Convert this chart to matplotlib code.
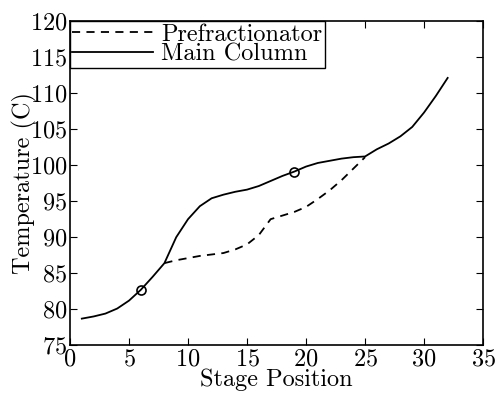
import matplotlib
matplotlib.use("Agg")
import matplotlib.pyplot as plt
import numpy as np

# temperature profiles
main_stage = list(range(1, 33))
main_temp = [78.7, 79.0, 79.4, 80.1, 81.2, 82.7, 84.5, 86.4, 90.0, 92.5,
             94.3, 95.4, 95.9, 96.3, 96.6, 97.1, 97.8, 98.5, 99.1, 99.8,
             100.3, 100.6, 100.9, 101.1, 101.2, 102.2, 103.0, 104.0, 105.3,
             107.3, 109.6, 112.1]
pre_stage = list(range(8, 26))
pre_temp = [86.4, 86.8, 87.1, 87.4, 87.6, 87.8, 88.3, 89.0, 90.3, 92.5,
            93.0, 93.5, 94.2, 95.3, 96.5, 97.9, 99.5, 101.1]
feed_stage = [6, 19]
feed_temp = [82.7, 99.1]

plt.rcParams['font.family'] = 'serif'
plt.rcParams['font.serif'] = ['cmr10']
plt.rcParams['mathtext.fontset'] = 'cm'
plt.rcParams['axes.formatter.use_mathtext'] = True

fs = 17.5
fig = plt.figure(figsize=(4.98, 3.93), dpi=100)
ax = fig.add_axes([0.1406, 0.1214, 0.8294, 0.8252])

ax.plot(pre_stage, pre_temp, color='black', lw=1.3, dashes=(4.5, 3.5), label='Prefractionator')
ax.plot(main_stage, main_temp, color='black', lw=1.3, label='Main Column')
ax.plot(feed_stage, feed_temp, 'o', color='black', mfc='none', ms=6.5, mew=1.2)

ax.set_xlim(0, 35)
ax.set_ylim(75, 120)
ax.set_xticks(np.arange(0, 36, 5))
ax.set_yticks(np.arange(75, 121, 5))
ax.tick_params(direction='in', top=True, right=True, length=5, width=0.8, labelsize=fs, pad=2)
for s in ax.spines.values():
    s.set_linewidth(1.2)

ax.set_xlabel('Stage Position', fontsize=fs, labelpad=-1)
ax.set_ylabel('Temperature (C)', fontsize=fs, labelpad=-5)

leg = ax.legend(loc='upper left', fontsize=fs, borderaxespad=0, borderpad=0.1,
                labelspacing=-0.1, handlelength=3.3, handletextpad=0.35,
                fancybox=False, framealpha=1, edgecolor='black')
leg.get_frame().set_linewidth(1.0)

fig.savefig('out.png', dpi=100)
